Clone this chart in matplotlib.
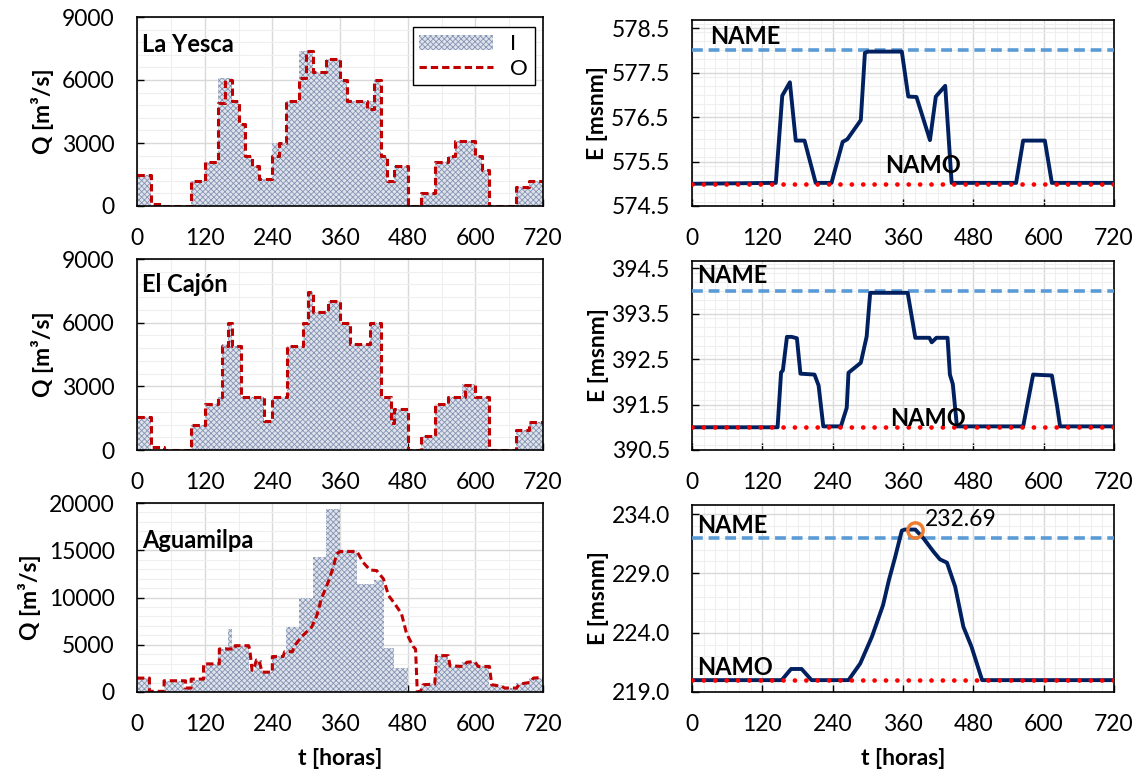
import numpy as np
import matplotlib
matplotlib.use("Agg")
import matplotlib.pyplot as plt
from matplotlib.patches import Patch
from matplotlib.lines import Line2D
from matplotlib.ticker import MultipleLocator, FormatStrFormatter

plt.rcParams['font.family'] = ['Lato', 'DejaVu Sans']
plt.rcParams['hatch.linewidth'] = 0.6

# ---- caudales (step series: start hour, value) ----
yesca_t_O = [0, 24, 48, 96, 120, 144, 156, 168, 180, 192, 204, 216, 240, 252, 264, 288, 300, 312, 336,
             360, 372, 408, 420, 432, 444, 456, 480, 504, 528, 552, 564, 600, 612, 624, 672, 696]
yesca_O = [1500, 80, 0, 1200, 2100, 4900, 6000, 5000, 3900, 2400, 1900, 1300, 2400, 3000, 5000, 6100, 7400, 6400, 7000,
           6000, 5000, 4600, 6000, 2400, 1200, 1900, 0, 600, 2100, 2400, 3100, 2400, 1700, 0, 900, 1200]
yesca_t_I = [0, 24, 96, 120, 144, 168, 180, 192, 204, 216, 240, 264, 288, 312, 336,
             360, 372, 408, 420, 432, 444, 456, 480, 504, 528, 552, 564, 600, 612, 624, 672, 696]
yesca_I = [1500, 0, 1200, 2100, 6100, 5000, 3900, 2400, 1900, 1300, 3000, 5000, 7400, 6400, 7000,
           6000, 5000, 5000, 6000, 2400, 1200, 1900, 0, 600, 2100, 2400, 3100, 2400, 1700, 0, 900, 1200]

cajon_t_O = [0, 24, 48, 96, 120, 144, 150, 162, 168, 184, 225, 240, 266, 295, 303, 312, 338, 360, 378,
             414, 432, 450, 456, 480, 504, 528, 552, 582, 600, 624, 672, 696]
cajon_O = [1550, 130, 0, 1200, 2150, 2500, 4900, 6000, 4900, 2500, 1350, 2500, 4900, 6000, 7450, 6500, 7000, 6000, 5000,
           6000, 2500, 1250, 1950, 0, 650, 2150, 2500, 3050, 2500, 0, 950, 1300]
cajon_t_I = [0, 24, 96, 120, 144, 150, 162, 168, 184, 225, 240, 266, 295, 303, 312, 338, 360, 378,
             414, 432, 450, 480, 504, 528, 552, 576, 600, 624, 672, 696]
cajon_I = [1550, 0, 1200, 2150, 2500, 5000, 6000, 4900, 2500, 1350, 2500, 4900, 6000, 7450, 6500, 7000, 6000, 5000,
           6000, 2500, 1950, 0, 650, 2150, 2500, 3100, 2500, 0, 950, 1300]

agua_t_I = [0, 24, 48, 84, 96, 120, 144, 156, 162, 168, 198, 210, 222, 240, 264, 288, 312, 336,
            360, 390, 420, 438, 456, 480, 504, 528, 552, 576, 600, 624, 648, 672, 696]
agua_I = [1500, 100, 1200, 400, 1300, 3000, 4500, 4800, 6700, 4900, 2300, 3400, 2100, 3800, 6900, 9900, 14300, 19400,
          14900, 11400, 11800, 4700, 2500, 0, 800, 3800, 2700, 3200, 2700, 700, 400, 1000, 1500]
# outflow Aguamilpa (polyline)
agua_t_O = [0, 22, 22, 48, 48, 86, 86, 96, 96, 118, 118, 146, 146, 174, 174, 198, 200, 204, 206, 212, 216, 222, 228,
            240, 240, 259, 262, 276, 278, 292, 310, 319, 327, 339, 348, 354, 360, 390, 401, 413, 425, 437, 446, 457,
            469, 478, 490, 494, 497, 502, 508, 528, 531, 552, 555, 579, 585, 599, 605, 625, 629, 647, 652, 673,
            678, 697, 703, 720]
agua_O = [1470, 1470, 70, 70, 1190, 1190, 420, 420, 1365, 1365, 2975, 2975, 4550, 4550, 4900, 4900, 4500, 2300, 2300, 3400,
          3400, 2100, 2100, 2100, 3750, 3750, 4270, 4270, 4800, 5845, 6895, 8120, 9870, 11620, 13195, 14600, 14875,
          14875, 13720, 12915, 12845, 11970, 10220, 9345, 8295, 6195, 4795, 4550, 70, 0, 770, 840, 3850, 3850, 2765,
          2700, 3150, 3220, 2700, 2700, 770, 595, 420, 420, 840, 1015, 1470, 1540]

# ---- elevaciones ----
yesca_tE = [0, 143, 154, 167, 177, 192, 211, 238, 257, 265, 288, 295, 300, 358, 369, 383, 406, 416, 432, 443,
            553, 565, 602, 614, 720]
yesca_E = [575.0, 575.02, 576.98, 577.28, 575.97, 575.97, 575.02, 575.02, 575.94, 576.0, 576.43, 577.94, 577.97, 577.97,
           576.96, 576.95, 575.98, 576.96, 577.2, 575.02, 575.02, 575.97, 575.97, 575.02, 575.02]
cajon_tE = [0, 146, 152, 155, 162, 170, 179, 185, 209, 216, 224, 254, 264, 267, 288, 298, 304, 368, 381, 405, 409,
            417, 436, 440, 445, 452, 565, 582, 614, 623, 628, 720]
cajon_E = [391.0, 391.0, 392.21, 392.25, 392.99, 392.99, 392.96, 392.18, 392.16, 391.92, 391.02, 391.02, 391.43, 392.2,
           392.42, 393.0, 393.96, 393.96, 392.97, 392.97, 392.87, 392.97, 392.97, 392.16, 391.95, 391.02, 391.02,
           392.16, 392.14, 391.46, 391.02, 391.02]
agua_tE = [0, 153, 169, 187, 204, 267, 287, 307, 326, 336, 346, 358, 363, 381, 395, 412, 423, 435, 449, 463, 477,
           495, 720]
agua_E = [220.0, 220.0, 220.94, 220.94, 220.0, 220.0, 221.4, 223.66, 226.33, 228.44, 230.26, 232.6, 232.69, 232.69,
          231.95, 230.83, 230.18, 229.9, 227.88, 224.5, 222.8, 220.0, 220.0]

names = ['La Yesca', 'El Cajón', 'Aguamilpa']
name_lv = [578.0, 394.0, 232.0]
namo_lv = [575.0, 391.0, 220.0]
e_ylims = [(574.5, 578.68), (390.5, 394.66), (219.0, 234.76)]
e_ticks = [[574.5, 575.5, 576.5, 577.5, 578.5], [390.5, 391.5, 392.5, 393.5, 394.5], [219, 224, 229, 234]]
q_ylims = [9000, 9000, 20000]
q_major = [3000, 3000, 5000]
q_minor = [600, 600, 1000]
e_minor = [0.2, 0.2, 1.0]
max_t, max_E = 380, 232.69

W, H = 1141, 778
fig = plt.figure(figsize=(W / 100, H / 100), dpi=100)

rows_left = [(17, 206), (259, 450), (503, 692)]
rows_right = [(20, 206), (261, 450), (505, 692)]

fill_kw = dict(step='post', facecolor='#dfe3ec', edgecolor='#8593b2', hatch='xxxxxx', linewidth=0)
o_kw = dict(color='#c00000', lw=2.2, dashes=(2.4, 1.3))
LAB = 16.5

def style(ax):
    ax.set_axisbelow(True)
    ax.grid(which='major', color='#d9d9d9', lw=1.0)
    ax.grid(which='minor', color='#efefef', lw=0.8)
    ax.tick_params(which='major', direction='in', length=5, width=1, labelsize=16.5, pad=16)
    ax.tick_params(which='minor', length=0)
    for s in ax.spines.values():
        s.set_linewidth(1.2)
        s.set_color('black')
    ax.set_xlim(0, 720)
    ax.xaxis.set_major_locator(MultipleLocator(120))

q_data = [(yesca_t_I, yesca_I, yesca_t_O, yesca_O),
          (cajon_t_I, cajon_I, cajon_t_O, cajon_O)]

for i in range(3):
    top, bot = rows_left[i]
    axq = fig.add_axes([137 / W, 1 - bot / H, 406 / W, (bot - top) / H])
    style(axq)
    axq.xaxis.set_minor_locator(MultipleLocator(60))
    axq.set_ylim(0, q_ylims[i])
    axq.yaxis.set_major_locator(MultipleLocator(q_major[i]))
    axq.yaxis.set_minor_locator(MultipleLocator(q_minor[i]))
    if i < 2:
        tI, vI, tO, vO = q_data[i]
        axq.fill_between(tI + [720], vI + [vI[-1]], 0, **fill_kw)
        axq.step(tO + [720], vO + [vO[-1]], where='post', **o_kw)
    else:
        axq.fill_between(agua_t_I + [720], agua_I + [agua_I[-1]], 0, **fill_kw)
        axq.plot(agua_t_O, agua_O, **o_kw)
    axq.set_ylabel('Q [m³/s]', fontsize=LAB, fontweight='bold', labelpad=6)
    txt_y = [0.852, 0.864, 0.80][i]
    axq.text(0.012, txt_y, names[i], transform=axq.transAxes, fontsize=17, fontweight='bold',
             ha='left', va='center')
    if i == 0:
        handles = [Patch(**{k: v for k, v in fill_kw.items() if k != 'step'}),
                   Line2D([], [], **o_kw)]
        axq.legend(handles, ['I', 'O'], loc='upper right', bbox_to_anchor=(0.98, 0.945),
                   fancybox=False, edgecolor='black', framealpha=1, fontsize=16,
                   handlelength=3.3, borderaxespad=0, borderpad=0.3, labelspacing=0.2)
        axq.get_legend().get_frame().set_linewidth(1.0)
    if i == 2:
        axq.set_xlabel('t [horas]', fontsize=LAB, fontweight='bold', labelpad=9)

e_data = [(yesca_tE, yesca_E), (cajon_tE, cajon_E), (agua_tE, agua_E)]
name_pos = [(31, 578.32), (8.5, 394.34), (8.5, 233.07)]
namo_pos = [(329, 575.41), (338, 391.19), (8.5, 221.03)]

for i in range(3):
    top, bot = rows_right[i]
    axe = fig.add_axes([692 / W, 1 - bot / H, 422 / W, (bot - top) / H])
    style(axe)
    axe.xaxis.set_minor_locator(MultipleLocator(20))
    axe.set_ylim(*e_ylims[i])
    axe.set_yticks(e_ticks[i])
    axe.yaxis.set_minor_locator(MultipleLocator(e_minor[i]))
    axe.yaxis.set_major_formatter(FormatStrFormatter('%.1f'))
    axe.axhline(name_lv[i], color='#5b9bd5', lw=2.6, dashes=(3, 1.6), zorder=3)
    axe.axhline(namo_lv[i], color='#ff0000', lw=3.4, dashes=(0.01, 2.4), dash_capstyle='round', zorder=4)
    t, e = e_data[i]
    axe.plot(t, e, color='#002060', lw=2.8, zorder=3)
    axe.text(*name_pos[i], 'NAME', fontsize=17, fontweight='bold', ha='left', va='center', zorder=5)
    axe.text(*namo_pos[i], 'NAMO', fontsize=17, fontweight='bold', ha='left', va='center', zorder=5)
    axe.set_ylabel('E [msnm]', fontsize=LAB, fontweight='bold', labelpad=2)
    if i == 2:
        axe.plot([max_t], [max_E], 'o', ms=11, mfc='none', mec='#ed7d31', mew=2.5, zorder=6)
        axe.text(397.5, 233.5, f'{max_E:.2f}', fontsize=16.5, ha='left', va='center', zorder=6)
        axe.set_xlabel('t [horas]', fontsize=LAB, fontweight='bold', labelpad=9)

fig.savefig('out.png', dpi=100)
